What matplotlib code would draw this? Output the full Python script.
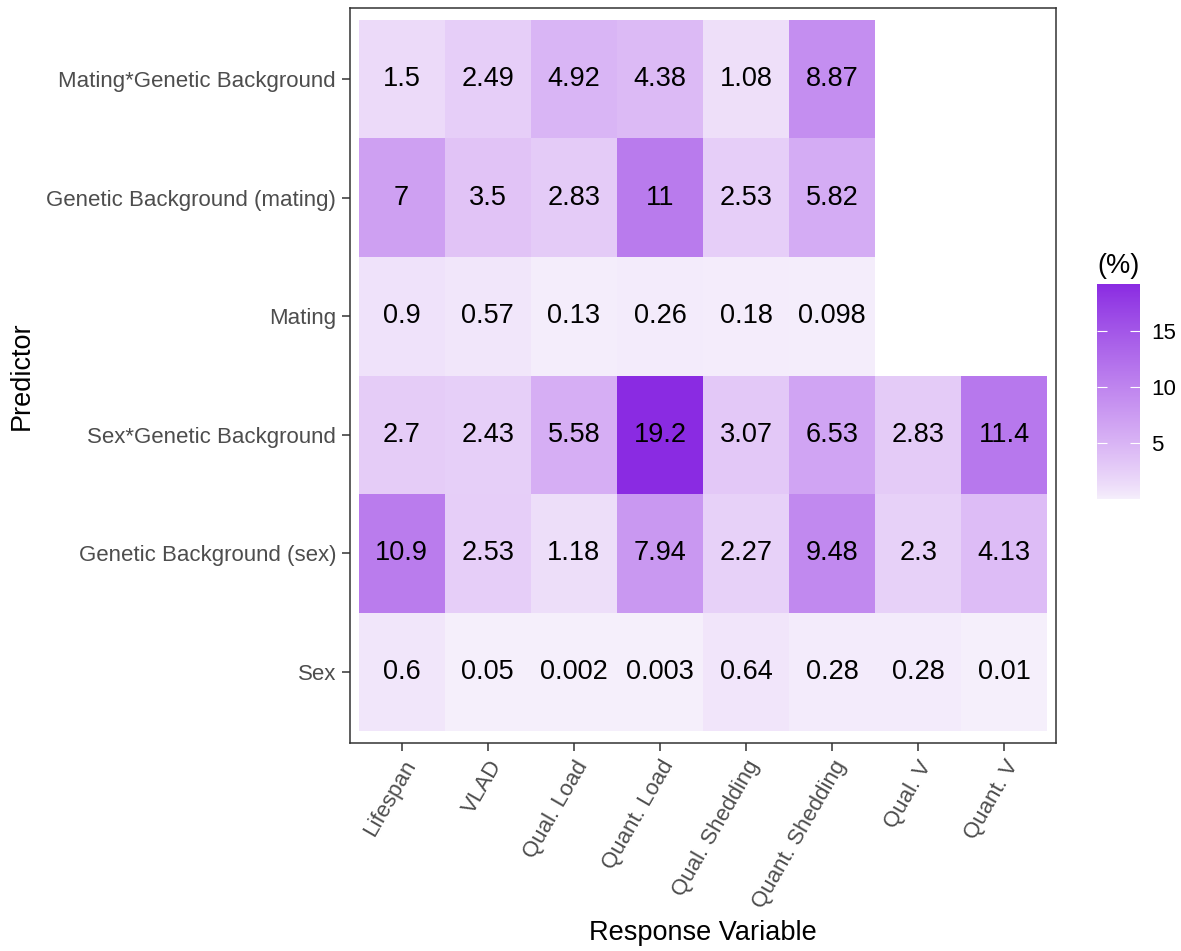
import numpy as np
import matplotlib
matplotlib.use("Agg")
from matplotlib import pyplot as plt
from matplotlib.colors import ListedColormap, to_rgb

plt.rcParams["font.family"] = ["Liberation Sans", "DejaVu Sans"]

# Response variables (x axis) and predictors (y axis, bottom to top)
responses = ["Lifespan", "VLAD", "Qual. Load", "Quant. Load", "Qual. Shedding",
             "Quant. Shedding", "Qual. V", "Quant. V"]
predictors = ["Sex", "Genetic Background (sex)", "Sex*Genetic Background",
              "Mating", "Genetic Background (mating)", "Mating*Genetic Background"]

# percent variance explained, one list per predictor (nan = not fitted)
sex = [0.6, 0.05, 0.002, 0.003, 0.64, 0.28, 0.28, 0.01]
gb_sex = [10.9, 2.53, 1.18, 7.94, 2.27, 9.48, 2.3, 4.13]
sex_gb = [2.7, 2.43, 5.58, 19.2, 3.07, 6.53, 2.83, 11.4]
mating = [0.9, 0.57, 0.13, 0.26, 0.18, 0.098, np.nan, np.nan]
gb_mating = [7, 3.5, 2.83, 11, 2.53, 5.82, np.nan, np.nan]
mating_gb = [1.5, 2.49, 4.92, 4.38, 1.08, 8.87, np.nan, np.nan]

values = np.array([sex, gb_sex, sex_gb, mating, gb_mating, mating_gb])


# gradient like ggplot's scale_fill_gradient (interpolated in Lab space)
def srgb_to_lab(c):
    c = np.asarray(c, dtype=float)
    lin = np.where(c <= 0.04045, c / 12.92, ((c + 0.055) / 1.055) ** 2.4)
    m = np.array([[0.4124, 0.3576, 0.1805],
                  [0.2126, 0.7152, 0.0722],
                  [0.0193, 0.1192, 0.9505]])
    xyz = m @ lin / np.array([0.95047, 1.0, 1.08883])
    f = np.where(xyz > 0.008856, np.cbrt(xyz), 7.787 * xyz + 16 / 116)
    return np.array([116 * f[1] - 16, 500 * (f[0] - f[1]), 200 * (f[1] - f[2])])


def lab_to_srgb(lab):
    L, a, b = lab
    fy = (L + 16) / 116
    fx = fy + a / 500
    fz = fy - b / 200
    f = np.array([fx, fy, fz])
    xyz = np.where(f ** 3 > 0.008856, f ** 3, (f - 16 / 116) / 7.787)
    xyz = xyz * np.array([0.95047, 1.0, 1.08883])
    m = np.array([[3.2406, -1.5372, -0.4986],
                  [-0.9689, 1.8758, 0.0415],
                  [0.0557, -0.2040, 1.0570]])
    lin = m @ xyz
    c = np.where(lin <= 0.0031308, 12.92 * lin, 1.055 * np.clip(lin, 0, None) ** (1 / 2.4) - 0.055)
    return np.clip(c, 0, 1)


low = srgb_to_lab(to_rgb("#F5EFFB"))
high = srgb_to_lab(to_rgb("#8A2BE2"))
# slightly bend the ramp so mid values come out a bit stronger
cmap = ListedColormap([lab_to_srgb(low + t ** 0.85 * (high - low))
                       for t in np.linspace(0, 1, 256)])

vmin = np.nanmin(values)
vmax = np.nanmax(values)

fig = plt.figure(figsize=(11.81, 9.51), dpi=100)
ax = fig.add_axes([350 / 1181, 1 - 743 / 951, 706 / 1181, 735 / 951])

masked = np.ma.masked_invalid(values)
mesh = ax.pcolormesh(np.arange(len(responses) + 1) - 0.5,
                     np.arange(len(predictors) + 1) - 0.5,
                     masked, cmap=cmap, vmin=vmin, vmax=vmax)

for i in range(len(predictors)):
    for j in range(len(responses)):
        v = values[i, j]
        if np.isnan(v):
            continue
        ax.text(j, i, f"{v:g}", ha="center", va="center", fontsize=19.5, color="black")

ax.set_xlim(-0.6, len(responses) - 0.4)
ax.set_ylim(-0.6, len(predictors) - 0.4)
ax.set_xticks(range(len(responses)))
ax.set_xticklabels(responses, rotation=60, ha="right", va="top",
                   rotation_mode="anchor", fontsize=16, color="#4D4D4D")
ax.set_yticks(range(len(predictors)))
ax.set_yticklabels(predictors, fontsize=16, color="#4D4D4D")
ax.tick_params(length=6, width=1.1, color="#333333", pad=4)
for s in ax.spines.values():
    s.set_color("#333333")
    s.set_linewidth(1.1)

ax.set_xlabel("Response Variable", fontsize=19.5, labelpad=6)
ax.set_ylabel("Predictor", fontsize=19.5, labelpad=8)

# colour bar
cax = fig.add_axes([1097 / 1181, 1 - 499 / 951, 43 / 1181, 215 / 951])
cb = fig.colorbar(mesh, cax=cax)
cb.outline.set_visible(False)
cb.set_ticks([5, 10, 15])
cax.yaxis.set_ticks_position("both")
cax.tick_params(axis="y", which="both", direction="in", color="white",
                length=7, width=0.8, labelsize=16, labelright=True,
                labelleft=False, pad=8)
cax.tick_params(axis="y", which="minor", length=0)
cax.set_title("(%)", fontsize=19.5, pad=8)

fig.savefig("out.png", dpi=100)
